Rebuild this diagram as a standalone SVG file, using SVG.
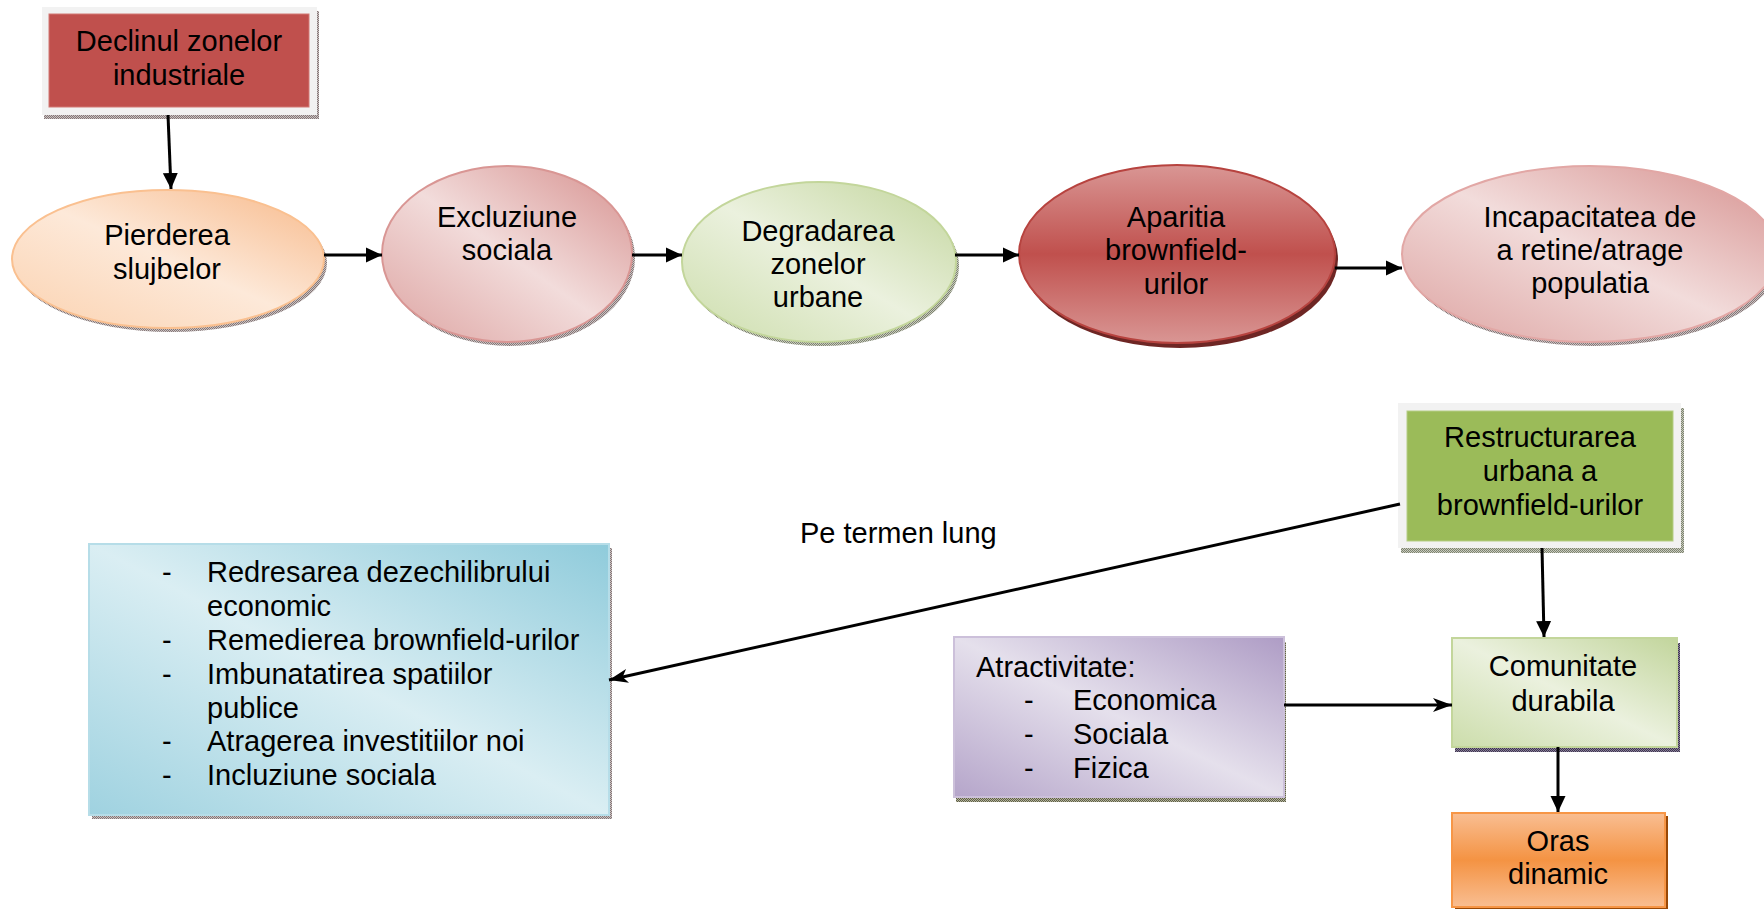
<svg xmlns="http://www.w3.org/2000/svg" width="1764" height="909" viewBox="0 0 1764 909">
<style>
  text { font-family: "Liberation Sans", Arial, sans-serif; font-size: 29px; fill: #000; }
  .c { text-anchor: middle; }
  .conn { stroke: #000; stroke-width: 3; fill: none; }
</style>
<defs>
  <pattern id="hg" width="2" height="2" patternUnits="userSpaceOnUse">
    <rect width="2" height="2" fill="#c9c2c2"/><rect width="1" height="1" fill="#857676"/><rect x="1" y="1" width="1" height="1" fill="#857676"/>
  </pattern>
  <pattern id="hgreen" width="2" height="2" patternUnits="userSpaceOnUse">
    <rect width="2" height="2" fill="#c8cbbd"/><rect width="1" height="1" fill="#7d8270"/><rect x="1" y="1" width="1" height="1" fill="#7d8270"/>
  </pattern>
  <pattern id="hpurple" width="2" height="2" patternUnits="userSpaceOnUse">
    <rect width="2" height="2" fill="#8a8098"/><rect width="1" height="1" fill="#3e3550"/><rect x="1" y="1" width="1" height="1" fill="#3e3550"/>
  </pattern>
  <pattern id="holive" width="2" height="2" patternUnits="userSpaceOnUse">
    <rect width="2" height="2" fill="#b4b49c"/><rect width="1" height="1" fill="#5e5e48"/><rect x="1" y="1" width="1" height="1" fill="#5e5e48"/>
  </pattern>
  <linearGradient id="gOrange" x1="1" y1="0" x2="0" y2="1">
    <stop offset="0" stop-color="#F7B98A"/><stop offset="0.5" stop-color="#FDE9D9"/><stop offset="1" stop-color="#FBD2B0"/>
  </linearGradient>
  <linearGradient id="gPink" x1="1" y1="0" x2="0" y2="1">
    <stop offset="0" stop-color="#D6908E"/><stop offset="0.5" stop-color="#F2DCDB"/><stop offset="1" stop-color="#DDA3A1"/>
  </linearGradient>
  <linearGradient id="gGreen" x1="1" y1="0" x2="0" y2="1">
    <stop offset="0" stop-color="#C2D59C"/><stop offset="0.5" stop-color="#EBF1DE"/><stop offset="1" stop-color="#CCDDAB"/>
  </linearGradient>
  <linearGradient id="gRed" x1="0" y1="0" x2="0" y2="1">
    <stop offset="0" stop-color="#D99694"/><stop offset="0.5" stop-color="#C0504D"/><stop offset="1" stop-color="#D99694"/>
  </linearGradient>
  <linearGradient id="gOras" x1="0" y1="0" x2="0" y2="1">
    <stop offset="0" stop-color="#F9BE92"/><stop offset="0.5" stop-color="#F49343"/><stop offset="1" stop-color="#F9BE92"/>
  </linearGradient>
  <linearGradient id="gPurple" x1="1" y1="0" x2="0" y2="1">
    <stop offset="0" stop-color="#AE9CC5"/><stop offset="0.5" stop-color="#E5E0EC"/><stop offset="1" stop-color="#B5A5CA"/>
  </linearGradient>
  <linearGradient id="gBlue" x1="1" y1="0" x2="0" y2="1">
    <stop offset="0" stop-color="#8FCBDB"/><stop offset="0.5" stop-color="#DAEEF3"/><stop offset="1" stop-color="#9FD2E0"/>
  </linearGradient>
  <marker id="tri" markerUnits="userSpaceOnUse" markerWidth="16" markerHeight="16" viewBox="0 0 16 16" refX="16" refY="8" orient="auto">
    <path d="M0,0.5 L16,8 L0,15.5 z" fill="#000"/>
  </marker>
  <marker id="stealth" markerUnits="userSpaceOnUse" markerWidth="20" markerHeight="16" viewBox="0 0 20 16" refX="19" refY="8" orient="auto">
    <path d="M0,1 L19,8 L0,15 L5,8 z" fill="#000"/>
  </marker>
</defs>

<g id="declinul">
  <rect x="44" y="11" width="275" height="108" fill="url(#hg)"/>
  <rect x="42" y="7" width="275" height="108" fill="#F2F2F2"/>
  <rect x="49" y="14" width="260" height="93" fill="#C0504D" stroke="#D27875" stroke-width="1"/>
  <text class="c" x="179" y="51">Declinul zonelor</text>
  <text class="c" x="179" y="85">industriale</text>
</g>

<g id="pierderea">
  <ellipse cx="171" cy="263" rx="156" ry="69" fill="url(#hg)"/>
  <ellipse cx="168" cy="259" rx="156" ry="69" fill="url(#gOrange)" stroke="#FAC090" stroke-width="2"/>
  <text class="c" x="167" y="245">Pierderea</text>
  <text class="c" x="167" y="279">slujbelor</text>
</g>

<g id="excluziune">
  <ellipse cx="510" cy="258" rx="125" ry="88" fill="url(#hg)"/>
  <ellipse cx="507" cy="254" rx="125" ry="88" fill="url(#gPink)" stroke="#D99694" stroke-width="2"/>
  <text class="c" x="507" y="227">Excluziune</text>
  <text class="c" x="507" y="260">sociala</text>
</g>

<g id="degradarea">
  <ellipse cx="822" cy="266" rx="137" ry="80" fill="url(#hgreen)"/>
  <ellipse cx="819" cy="262" rx="137" ry="80" fill="url(#gGreen)" stroke="#C3D69B" stroke-width="2"/>
  <text class="c" x="818" y="241">Degradarea</text>
  <text class="c" x="818" y="274">zonelor</text>
  <text class="c" x="818" y="307">urbane</text>
</g>

<g id="aparitia">
  <ellipse cx="1180" cy="259" rx="158" ry="89" fill="#6E2624"/>
  <ellipse cx="1177" cy="254" rx="158" ry="89" fill="url(#gRed)" stroke="#B7433F" stroke-width="2"/>
  <text class="c" x="1176" y="227">Aparitia</text>
  <text class="c" x="1176" y="260">brownfield-</text>
  <text class="c" x="1176" y="294">urilor</text>
</g>

<g id="incapacitatea">
  <ellipse cx="1593" cy="258" rx="188" ry="88" fill="url(#hg)"/>
  <ellipse cx="1590" cy="254" rx="188" ry="88" fill="url(#gPink)" stroke="#E2A7A5" stroke-width="2"/>
  <text class="c" x="1590" y="227">Incapacitatea de</text>
  <text class="c" x="1590" y="260">a retine/atrage</text>
  <text class="c" x="1590" y="293">populatia</text>
</g>

<g id="restructurarea">
  <rect x="1401" y="408" width="283" height="145" fill="url(#hgreen)"/>
  <rect x="1398" y="403" width="283" height="145" fill="#F2F2F2"/>
  <rect x="1407" y="411" width="266" height="130" fill="#9BBB59" stroke="#B5CD85" stroke-width="1"/>
  <text class="c" x="1540" y="447">Restructurarea</text>
  <text class="c" x="1540" y="481">urbana a</text>
  <text class="c" x="1540" y="515">brownfield-urilor</text>
</g>

<g id="comunitate">
  <rect x="1455" y="643" width="225" height="109" fill="url(#hpurple)"/>
  <rect x="1452" y="638" width="225" height="109" fill="url(#gGreen)" stroke="#C3D69B" stroke-width="2"/>
  <text class="c" x="1563" y="676">Comunitate</text>
  <text class="c" x="1563" y="711">durabila</text>
</g>

<g id="oras">
  <rect x="1455" y="816" width="213" height="94" fill="#984807"/>
  <rect x="1452" y="813" width="213" height="94" fill="url(#gOras)" stroke="#F79646" stroke-width="2"/>
  <text class="c" x="1558" y="851">Oras</text>
  <text class="c" x="1558" y="884">dinamic</text>
</g>

<g id="atractivitate">
  <rect x="956" y="642" width="330" height="160" fill="url(#holive)"/>
  <rect x="954" y="637" width="330" height="160" fill="url(#gPurple)" stroke="#CCC0DA" stroke-width="2"/>
  <text x="976" y="677">Atractivitate:</text>
  <text x="1024" y="710">-</text><text x="1073" y="710">Economica</text>
  <text x="1024" y="744">-</text><text x="1073" y="744">Sociala</text>
  <text x="1024" y="778">-</text><text x="1073" y="778">Fizica</text>
</g>

<g id="obiective">
  <rect x="92" y="548" width="520" height="271" fill="url(#hg)"/>
  <rect x="89" y="544" width="520" height="271" fill="url(#gBlue)" stroke="#B6DDE8" stroke-width="2"/>
  <text x="162" y="582">-</text><text x="207" y="582">Redresarea dezechilibrului</text>
  <text x="207" y="616">economic</text>
  <text x="162" y="650">-</text><text x="207" y="650">Remedierea brownfield-urilor</text>
  <text x="162" y="684">-</text><text x="207" y="684">Imbunatatirea spatiilor</text>
  <text x="207" y="718">publice</text>
  <text x="162" y="751">-</text><text x="207" y="751">Atragerea investitiilor noi</text>
  <text x="162" y="785">-</text><text x="207" y="785">Incluziune sociala</text>
</g>

<g id="label-termen">
  <text x="800" y="543">Pe termen lung</text>
</g>

<g id="connectors">
  <line class="conn" x1="168" y1="115" x2="171" y2="189" marker-end="url(#tri)"/>
  <line class="conn" x1="324" y1="255" x2="382" y2="255" marker-end="url(#tri)"/>
  <line class="conn" x1="632" y1="255" x2="682" y2="255" marker-end="url(#tri)"/>
  <line class="conn" x1="955" y1="255" x2="1019" y2="255" marker-end="url(#tri)"/>
  <line class="conn" x1="1335" y1="268" x2="1402" y2="268" marker-end="url(#tri)"/>
  <line class="conn" x1="1542" y1="548" x2="1544" y2="637" marker-end="url(#tri)"/>
  <line class="conn" x1="1558" y1="747" x2="1558" y2="812" marker-end="url(#tri)"/>
  <line class="conn" x1="1284" y1="705" x2="1452" y2="705" marker-end="url(#stealth)"/>
  <line class="conn" x1="1400" y1="504" x2="609" y2="680" marker-end="url(#stealth)"/>
</g>
</svg>
